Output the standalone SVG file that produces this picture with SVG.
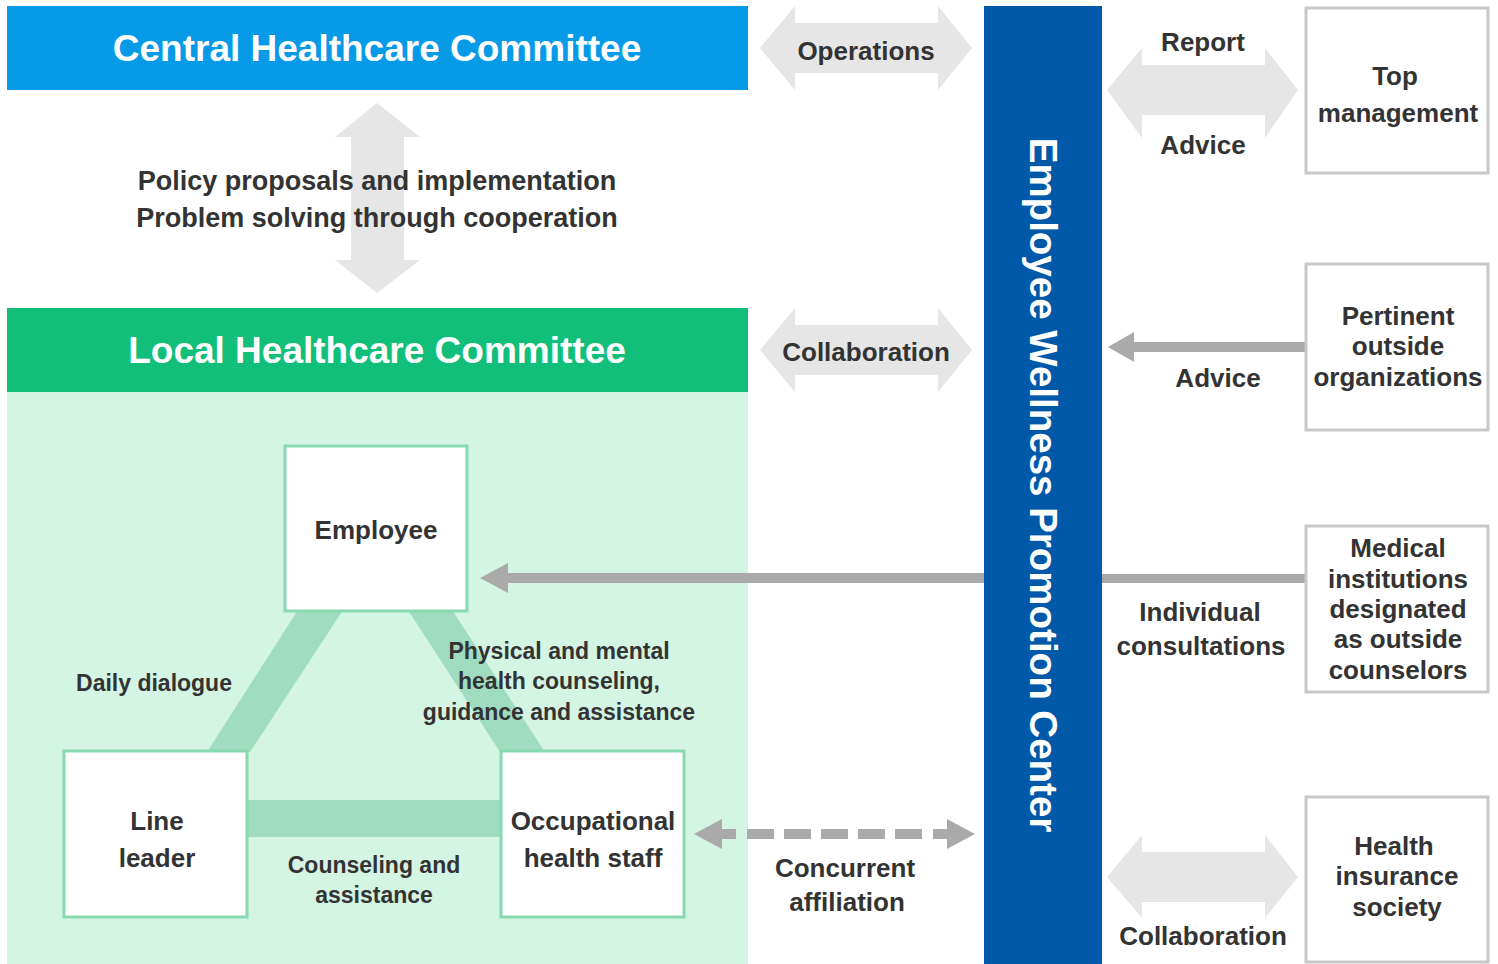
<svg xmlns="http://www.w3.org/2000/svg" width="1498" height="964" viewBox="0 0 1498 964">
<style>
text{font-family:"Liberation Sans",Arial,sans-serif;font-weight:bold;fill:#333;text-anchor:middle;dominant-baseline:central}
.t26{font-size:26px}
.t27{font-size:27px}
.t23{font-size:23px}
.head{font-size:37px;fill:#fff}
.gbox{fill:#fff;stroke:#88d9b0;stroke-width:3}
.wbox{fill:#fff;stroke:#c8c8c8;stroke-width:3}
.big{fill:#e6e6e6}
.dark{fill:#aaaaaa}
.band{fill:#9fdcc0}
</style>
<rect width="1498" height="964" fill="#fff"/>
<g id="central">
<rect x="7" y="6" width="741" height="84" fill="#079be7"/>
<text class="head" x="377" y="48">Central Healthcare Committee</text>
</g>
<g id="local">
<rect x="7" y="392" width="741" height="572" fill="#d4f4e4"/>
<rect x="7" y="308" width="741" height="84" fill="#11bf7b"/>
<text class="head" x="377" y="350">Local Healthcare Committee</text>
</g>
<g id="center">
<rect x="984" y="6" width="118" height="958" fill="#0058a8"/>
<text transform="translate(1043,485) rotate(90)" style="font-size:38.5px;fill:#fff">Employee Wellness Promotion Center</text>
</g>
<g id="connectors">
<polygon class="big" points="377,103 420,137 404,137 404,260 420,260 377,293 335,260 351,260 351,137 335,137"/>
<polygon class="big" points="760,48 795,6 795,23 938,23 938,6 972,48 938,90 938,73 795,73 795,90"/>
<polygon class="big" points="760,350 795,308 795,325 938,325 938,308 972,350 938,392 938,375 795,375 795,392"/>
<polygon class="big" points="1107,90 1142,48 1142,65 1265,65 1265,48 1298,90 1265,138 1265,115 1142,115 1142,138"/>
<polygon class="big" points="1107,877 1142,835 1142,852 1265,852 1265,835 1298,877 1265,918 1265,902 1142,902 1142,918"/>
<rect class="dark" x="1130" y="342" width="176" height="10"/>
<polygon class="dark" points="1108,347 1134,332 1134,362"/>
<rect class="dark" x="1102" y="574" width="204" height="9"/>
<rect class="dark" x="505" y="573" width="479" height="10"/>
<polygon class="dark" points="480,578 508,563 508,593"/>
<polygon class="dark" points="694,834 722,819 722,849"/>
<rect class="dark" x="720" y="829" width="16" height="10"/>
<rect class="dark" x="747" y="829" width="27" height="10"/>
<rect class="dark" x="784" y="829" width="27" height="10"/>
<rect class="dark" x="821" y="829" width="27" height="10"/>
<rect class="dark" x="858" y="829" width="27" height="10"/>
<rect class="dark" x="895" y="829" width="27" height="10"/>
<rect class="dark" x="933" y="829" width="16" height="10"/>
<polygon class="dark" points="975,834 947,819 947,849"/>
<polygon class="band" points="298,610 343,610 250,752 207,752"/>
<polygon class="band" points="408,610 452,610 545,752 500,752"/>
<rect class="band" x="246" y="800" width="256" height="37"/>
</g>
<text class="t27" x="377" y="181">Policy proposals and implementation</text>
<text class="t27" x="377" y="218">Problem solving through cooperation</text>
<text class="t26" x="866" y="51">Operations</text>
<text class="t26" x="866" y="352">Collaboration</text>
<text class="t26" x="1203" y="42">Report</text>
<text class="t26" x="1203" y="145">Advice</text>
<text class="t26" x="1218" y="378">Advice</text>
<text class="t26" x="1200" y="612">Individual</text>
<text class="t26" x="1201" y="646">consultations</text>
<text class="t26" x="1203" y="936">Collaboration</text>
<text class="t26" x="845" y="868">Concurrent</text>
<text class="t26" x="847" y="902">affiliation</text>
<text class="t23" x="154" y="683">Daily dialogue</text>
<text class="t23" x="559" y="651">Physical and mental</text>
<text class="t23" x="559" y="681">health counseling,</text>
<text class="t23" x="559" y="712">guidance and assistance</text>
<text class="t23" x="374" y="865">Counseling and</text>
<text class="t23" x="374" y="895">assistance</text>
<g id="employee">
<rect class="gbox" x="285" y="446" width="182" height="165"/>
<text class="t26" x="376" y="530">Employee</text>
</g>
<g id="lineleader">
<rect class="gbox" x="64" y="751" width="183" height="166"/>
<text class="t26" x="157" y="821">Line</text>
<text class="t26" x="157" y="858">leader</text>
</g>
<g id="occupational">
<rect class="gbox" x="501" y="751" width="183" height="166"/>
<text class="t26" x="593" y="821">Occupational</text>
<text class="t26" x="593" y="858">health staff</text>
</g>
<g id="topmgmt">
<rect class="wbox" x="1306" y="8" width="182" height="165"/>
<text class="t26" x="1395" y="76">Top</text>
<text class="t26" x="1398" y="113">management</text>
</g>
<g id="pertinent">
<rect class="wbox" x="1306" y="264" width="182" height="166"/>
<text class="t26" x="1398" y="316">Pertinent</text>
<text class="t26" x="1398" y="346">outside</text>
<text class="t26" x="1398" y="377">organizations</text>
</g>
<g id="medical">
<rect class="wbox" x="1306" y="526" width="182" height="166"/>
<text class="t26" x="1398" y="548">Medical</text>
<text class="t26" x="1398" y="579">institutions</text>
<text class="t26" x="1398" y="609">designated</text>
<text class="t26" x="1398" y="639">as outside</text>
<text class="t26" x="1398" y="670">counselors</text>
</g>
<g id="healthins">
<rect class="wbox" x="1306" y="797" width="182" height="165"/>
<text class="t26" x="1394" y="846">Health</text>
<text class="t26" x="1397" y="876">insurance</text>
<text class="t26" x="1397" y="907">society</text>
</g>
</svg>
